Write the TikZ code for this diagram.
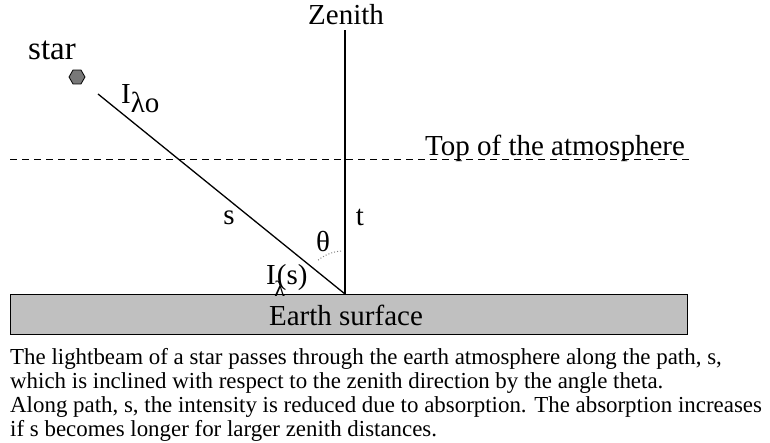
\documentclass[tikz,border=0pt]{standalone}
\usepackage{fontspec}
\usepackage{graphicx}
\setmainfont{Liberation Serif}
\usetikzlibrary{shapes.geometric,calc}
\definecolor{earthgray}{RGB}{192,192,192}
\definecolor{stargray}{RGB}{120,120,120}
\begin{document}
\begin{tikzpicture}[x=1pt,y=-1pt,
  lbl/.style={inner sep=0pt, font=\fontsize{29}{32}\selectfont},
  capt/.style={inner sep=0pt, anchor=base west, font=\fontsize{22.9}{24}\selectfont},
  ray/.style={line width=1.3pt}]
\useasboundingbox (0,0) rectangle (770,443);
% earth
\node[draw, line width=1pt, fill=earthgray, minimum width=677, minimum height=40, anchor=north west, inner sep=0pt] (earth) at (10,294) {};
\node[lbl] (earthlbl) at (346,315) {Earth surface};
% zenith line
\coordinate (base) at (345,294);
\coordinate (ztop) at (345,30);
\draw[ray] (base) -- (ztop);
\node[lbl] (zen) at (346,15) {Zenith};
% atmosphere
\coordinate (al) at (10,160);
\coordinate (ar) at (690,160);
\draw[line width=1pt, dash pattern=on 7pt off 5pt] (al) -- (ar);
\node[lbl, anchor=base west] (top) at (425,156) {Top of the atmosphere};
% star
\node[regular polygon, regular polygon sides=6, minimum size=16, inner sep=0pt, draw, fill=stargray, line width=0.8pt] (star) at (77,77) {};
\node[inner sep=0pt, font=\fontsize{33}{36}\selectfont] (starlbl) at (52,50) {star};
\coordinate (beamstart) at (98,94);
\draw[ray] (beamstart) -- (base);
\node[lbl, anchor=base west] (i0) at (121,104) {I\raisebox{-0.3em}{λo}};
\node[lbl] (slbl) at (229,218) {s};
\node[lbl] (tlbl) at (360,217) {t};
\node[lbl] (theta) at (323,242) {θ};
\draw[dotted, gray, line width=1pt] ($(base)+(-4,-43)$) arc[start angle=-95, end angle=-130, radius=43];
\node[lbl, anchor=base west] (is) at (266,285) {I\kern-0.05em\raisebox{-0.38em}{\fontsize{22}{24}\selectfont λ}\kern-0.28em(s)};
% caption
\node[capt] (c1) at (10,364) {The lightbeam of a star passes through the earth atmosphere along the path, s,};
\node[capt] (c2) at (10,388) {which is inclined with respect to the zenith direction by the angle theta.};
\node[capt] (c3) at (10,412) {Along path, s, the intensity is reduced due to absorption. The absorption increases};
\node[capt] (c4) at (10,436) {if s becomes longer for larger zenith distances.};
\end{tikzpicture}
\end{document}
